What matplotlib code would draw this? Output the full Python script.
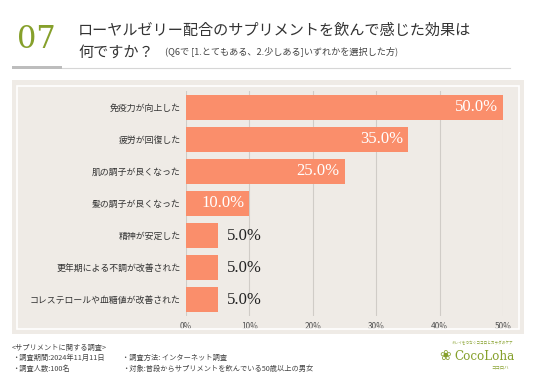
import matplotlib
matplotlib.use("Agg")
import matplotlib.pyplot as plt
from matplotlib.patches import Rectangle

plt.rcParams['font.family'] = ['Noto Sans CJK JP', 'DejaVu Sans']

# data
categories = ["免疫力が向上した", "疲労が回復した", "肌の調子が良くなった",
              "髪の調子が良くなった", "精神が安定した",
              "更年期による不調が改善された", "コレステロールや血糖値が改善された"]
values = [50.0, 35.0, 25.0, 10.0, 5.0, 5.0, 5.0]
xticks = [0, 10, 20, 30, 40, 50]
xticklabels = ["0%", "10%", "20%", "30%", "40%", "50%"]

W, H = 536, 383
bar_color = "#fa8e6b"
panel_color = "#efebe6"
green = "#86a02b"


def fx(px):
    return px / W


def fy(py):
    return 1 - py / H


fig = plt.figure(figsize=(W / 100, H / 100), dpi=100)
fig.patch.set_facecolor("white")

# panel background
fig.add_artist(Rectangle((fx(12), fy(334)), fx(512), 254 / H,
                         transform=fig.transFigure, facecolor=panel_color,
                         edgecolor="none", zorder=0))
fig.add_artist(Rectangle((fx(17), fy(329)), fx(502), 243 / H,
                         transform=fig.transFigure, facecolor="none",
                         edgecolor="white", lw=1.2, zorder=1))

# header
fig.text(fx(17), fy(40), "07", fontsize=22, color=green,
         family="DejaVu Serif", va="center", ha="left")
fig.text(fx(78), fy(30), "ローヤルゼリー配合のサプリメントを飲んで感じた効果は",
         fontsize=10.9, color="#333333", va="center", ha="left")
fig.text(fx(78), fy(52), "何ですか？", fontsize=10.9, color="#333333",
         va="center", ha="left")
fig.text(fx(165), fy(51), "(Q6で [1.とてもある、2.少しある]いずれかを選択した方)",
         fontsize=6.6, color="#444444", va="center", ha="left")
fig.add_artist(Rectangle((fx(12), fy(69)), fx(50), 3 / H,
                         transform=fig.transFigure, facecolor="#bdbdbd",
                         edgecolor="none"))
fig.add_artist(plt.Line2D([fx(62), fx(510)], [fy(68), fy(68)],
                          transform=fig.transFigure, color="#d6d6d6", lw=0.8))

# chart
ax = fig.add_axes([fx(186), fy(316), fx(317), 225 / H])
ax.set_facecolor("none")
y = list(range(len(categories)))
ax.barh(y, values, height=0.78, color=bar_color, zorder=3)
ax.set_ylim(len(categories) - 0.5, -0.5)
ax.set_xlim(0, 50)
ax.set_xticks(xticks)
ax.set_xticklabels(xticklabels, fontsize=6, color="#555555")
ax.set_yticks(y)
ax.set_yticklabels(categories, fontsize=6.4, color="#333333")
ax.tick_params(length=0, pad=4)
ax.grid(axis="x", color="#d0ccc7", lw=0.8, zorder=0)
for s in ax.spines.values():
    s.set_visible(False)

for yi, v in zip(y, values):
    label = f"{v:.1f}%"
    if v >= 10:
        ax.text(v - 0.8, yi, label, ha="right", va="center", color="white",
                fontsize=12, family="Liberation Serif", zorder=4)
    else:
        ax.text(v + 1.5, yi, label, ha="left", va="center", color="#222222",
                fontsize=12, family="Liberation Serif", zorder=4)

# footer
foot = dict(fontsize=5.2, color="#444444", va="center")
fig.text(fx(12), fy(348), "<サプリメントに関する調査>", **foot)
fig.text(fx(12), fy(358), "・調査期間:2024年11月11日", **foot)
fig.text(fx(12), fy(369), "・調査人数:100名", **foot)
fig.text(fx(122), fy(358), "・調査方法: インターネット調査", **foot)
fig.text(fx(122), fy(369), "・対象:普段からサプリメントを飲んでいる50歳以上の男女", **foot)

# logo
fig.text(fx(482), fy(343), "キレイをつなぐココロとカラダのケア", fontsize=2.6, color=green,
         ha="center", va="center")
fig.text(fx(454), fy(356), "CocoLoha", fontsize=8.6, color=green,
         family="DejaVu Serif", ha="left", va="center")
fig.text(fx(439), fy(356), "❀", fontsize=10, color=green,
         family="DejaVu Sans", ha="left", va="center")
fig.text(fx(509), fy(367), "ココロハ", fontsize=3.2, color=green,
         ha="right", va="center")

fig.savefig("out.png", dpi=100, facecolor="white")
